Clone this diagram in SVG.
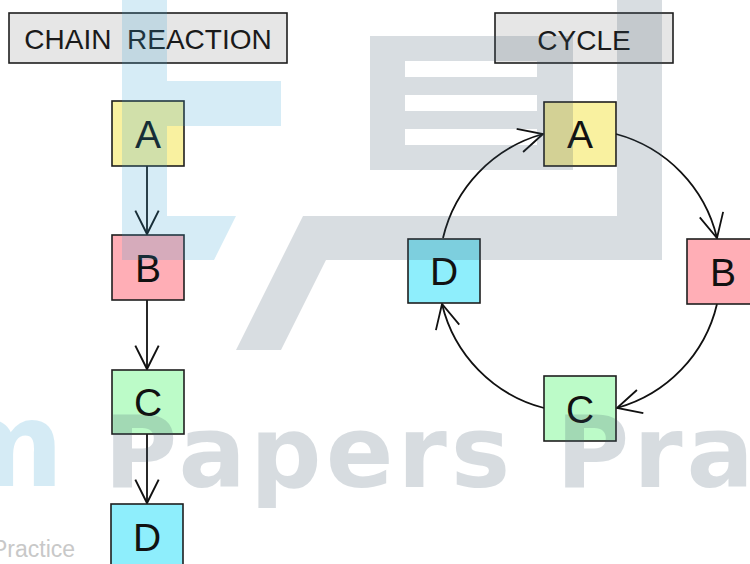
<svg xmlns="http://www.w3.org/2000/svg" width="750" height="564" viewBox="0 0 750 564">
<style>
.title{fill:#e6e6e6;stroke:#1e1e1e;stroke-width:1.6}
.box{stroke:#1e1e1e;stroke-width:1.6}
.ya{fill:#f9f1a0}.pb{fill:#ffaeb6}.gc{fill:#bcfbc8}.cd{fill:#8eeefc}
.tt{font-family:"Liberation Sans",Arial,sans-serif;font-size:28px;fill:#1a1a1a;text-anchor:middle;white-space:pre}
.lt{font-family:"Liberation Sans",Arial,sans-serif;font-size:39px;fill:#111;text-anchor:middle}
.conn{fill:none;stroke:#111;stroke-width:1.8}
.wb{fill:#33a0d2;opacity:0.2}
.wg{fill:#3d566a;opacity:0.2}
.wt{font-family:"DejaVu Sans",sans-serif;font-weight:bold}
</style>
<defs>
<marker id="arr" markerUnits="userSpaceOnUse" markerWidth="34" markerHeight="34" viewBox="-28 -16 32 32" refX="0" refY="0" orient="auto" overflow="visible">
<path d="M-22,-11 L0,0 L-22,11" fill="none" stroke="#111" stroke-width="1.8" stroke-linejoin="miter"/>
</marker>
<marker id="arc" markerUnits="userSpaceOnUse" markerWidth="36" markerHeight="36" viewBox="-30 -18 34 36" refX="0" refY="0" orient="auto" overflow="visible">
<path d="M-24,-12 L0,0 L-24,12" fill="none" stroke="#111" stroke-width="1.8" stroke-linejoin="miter"/>
</marker>
</defs>
<rect width="750" height="564" fill="#fff"/>

<g id="title-chain">
<rect class="title" x="9" y="13" width="278" height="50"/>
<text class="tt" x="148" y="49" xml:space="preserve">CHAIN  REACTION</text>
</g>
<g id="title-cycle">
<rect class="title" x="495" y="13" width="178" height="50"/>
<text class="tt" x="584" y="50">CYCLE</text>
</g>

<g id="connectors">
<line class="conn" x1="147" y1="166" x2="147" y2="234" marker-end="url(#arr)"/>
<line class="conn" x1="147" y1="300" x2="147" y2="369" marker-end="url(#arr)"/>
<line class="conn" x1="147" y1="434" x2="147" y2="503" marker-end="url(#arr)"/>
<path class="conn" d="M443,238 A141.5,141.5 0 0 1 543,134" marker-end="url(#arc)"/>
<path class="conn" d="M616,134 A141.5,141.5 0 0 1 717,238" marker-end="url(#arc)"/>
<path class="conn" d="M717,304 A141.5,141.5 0 0 1 617,408" marker-end="url(#arc)"/>
<path class="conn" d="M544,408 A141.5,141.5 0 0 1 442,304" marker-end="url(#arc)"/>
</g>

<g id="chain-A"><rect class="box ya" x="112" y="101" width="72" height="65"/><text class="lt" x="148" y="148">A</text></g>
<g id="chain-B"><rect class="box pb" x="112" y="235" width="72" height="65"/><text class="lt" x="148" y="282">B</text></g>
<g id="chain-C"><rect class="box gc" x="112" y="370" width="72" height="64"/><text class="lt" x="148" y="416">C</text></g>
<g id="chain-D"><rect class="box cd" x="111" y="504" width="72" height="66"/><text class="lt" x="147" y="551">D</text></g>

<g id="cycle-A"><rect class="box ya" x="544" y="102" width="72" height="64"/><text class="lt" x="580" y="148">A</text></g>
<g id="cycle-B"><rect class="box pb" x="687" y="239" width="72" height="65"/><text class="lt" x="723" y="286">B</text></g>
<g id="cycle-C"><rect class="box gc" x="544" y="376" width="72" height="65"/><text class="lt" x="580" y="423">C</text></g>
<g id="cycle-D"><rect class="box cd" x="408" y="239" width="72" height="64"/><text class="lt" x="444" y="285">D</text></g>

<g id="watermark">
<path class="wb" d="M122,0 H167 V81 H281 V126 H167 V216 H236 L214,260 H122 Z"/>
<path class="wg" fill-rule="evenodd" d="M370,36 H573 V170 H370 Z M405,61 H537 V77 H405 Z M405,95 H537 V111 H405 Z M405,129 H537 V145 H405 Z"/>
<path class="wg" d="M617,0 H662 V260 H326 L281,350 H236 L303,216 H617 Z"/>
<text class="wt wb" x="64" y="486" font-size="118" text-anchor="end">Exam</text>
<text class="wt wg" x="104" y="487" font-size="100" letter-spacing="4">Papers</text>
<text class="wt wg" x="556" y="487" font-size="100" letter-spacing="4">Practice</text>
<text x="-8" y="557" font-family="Liberation Sans,Arial,sans-serif" font-size="23" fill="#c8c8c8">Practice</text>
</g>
</svg>
